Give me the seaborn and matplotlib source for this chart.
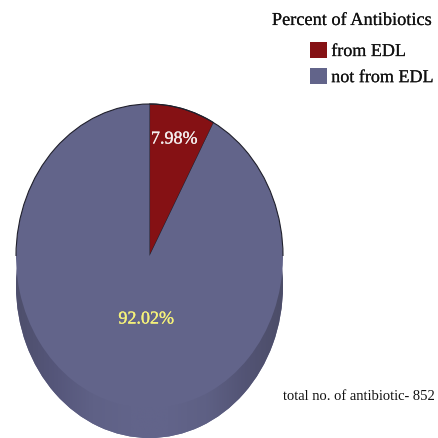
import matplotlib
matplotlib.use("Agg")
import matplotlib.pyplot as plt
import matplotlib.patheffects as pe
from matplotlib.colors import LinearSegmentedColormap
from matplotlib.patches import Arc
import numpy as np
import seaborn as sns

categories = ["from EDL", "not from EDL"]
percentages = [7.98, 92.02]
slice_colors = ["#851114", "#62648A"]
label_colors = ["#F4EEEE", "#F6F27A"]
legend_title = "Percent of Antibiotics"
total_note = "total no. of antibiotic- 852"

sns.set_theme(style="white", palette=sns.color_palette(slice_colors))
plt.rcParams["font.family"] = ["Liberation Serif", "DejaVu Serif"]

SIZE = 439
fig = plt.figure(figsize=(SIZE / 100, SIZE / 100), dpi=100, facecolor="white")
ax = fig.add_axes([0, 0, 1, 1])

# Pie geometry in pixels; the unit circle is stretched into an ellipse.
cx, cy, rx, ry, depth_px = 149.5, 257.0, 133.5, 152.0, 30.0
depth = depth_px / ry

# Side wall: a lower copy of the pie, used as the clip for a horizontal shade.
wall, _ = ax.pie([1], center=(0, -depth), radius=1, colors=[slice_colors[1]],
                 wedgeprops={"linewidth": 0})
wall[0].set_zorder(1)

# Top face.
wedges, _, pct_texts = ax.pie(
    percentages, startangle=90, counterclock=False, radius=1, colors=slice_colors,
    autopct="%.2f%%", wedgeprops={"linewidth": 0},
)
for w in wedges:
    w.set_zorder(3)
wedges[0].set_edgecolor("#20202c")
wedges[0].set_linewidth(0.8)

ax.set_aspect("auto")
xlim = (-cx / rx, (SIZE - cx) / rx)
ylim = (-(SIZE - cy) / ry, cy / ry)

shade = LinearSegmentedColormap.from_list(
    "wall", ["#4E4F6C", "#55567A", "#5F6186", "#62648A", "#62648A", "#5E6084", "#535475", "#4C4D68"]
)
gradient = ax.imshow(np.linspace(0, 1, 256)[None, :], cmap=shade, aspect="auto",
                     extent=(-1, 1, -1 - depth, 0), zorder=2)
gradient.set_clip_path(wall[0])

# Thin outline along the upper half of the top face.
ax.add_patch(Arc((0, 0), 2, 2, theta1=0, theta2=180, color="#20202c", lw=0.8, zorder=4))
ax.set_xlim(xlim)
ax.set_ylim(ylim)
ax.axis("off")

# Percentage labels.
heavier = [pe.withStroke(linewidth=0.2, foreground=c) for c in label_colors]
pct_positions = [((174 - cx) / rx, (cy - 140) / ry), ((146 - cx) / rx, (cy - 320) / ry)]
for txt, pos, col, fx in zip(pct_texts, pct_positions, label_colors, heavier):
    txt.set_position(pos)
    txt.set_color(col)
    txt.set_fontsize(13)
    txt.set_ha("center")
    txt.set_va("center")
    txt.set_zorder(5)
    txt.set_path_effects([fx])

leg = ax.legend(
    wedges, categories, title=legend_title, frameon=False, alignment="right",
    loc="upper right", bbox_to_anchor=(433 / SIZE, 1 - 13 / SIZE),
    bbox_transform=fig.transFigure, borderaxespad=0, borderpad=0,
    fontsize=13, title_fontsize=13.2, handlelength=0.95, handleheight=1.05,
    handletextpad=0.25, labelspacing=0.42,
)
leg._legend_box.sep = 9
ink = pe.withStroke(linewidth=0.1, foreground="#111111")
leg.get_title().set_color("#111111")
leg.get_title().set_path_effects([ink])
for t in leg.get_texts():
    t.set_color("#111111")
    t.set_path_effects([ink])
for h in leg.legend_handles:
    h.set_edgecolor("none")
    h.set_linewidth(0)

fig.text(283 / SIZE, 1 - 397 / SIZE, total_note, fontsize=10.5, color="#111111",
         ha="left", va="center")

fig.savefig("out.png", dpi=100, facecolor="white")
